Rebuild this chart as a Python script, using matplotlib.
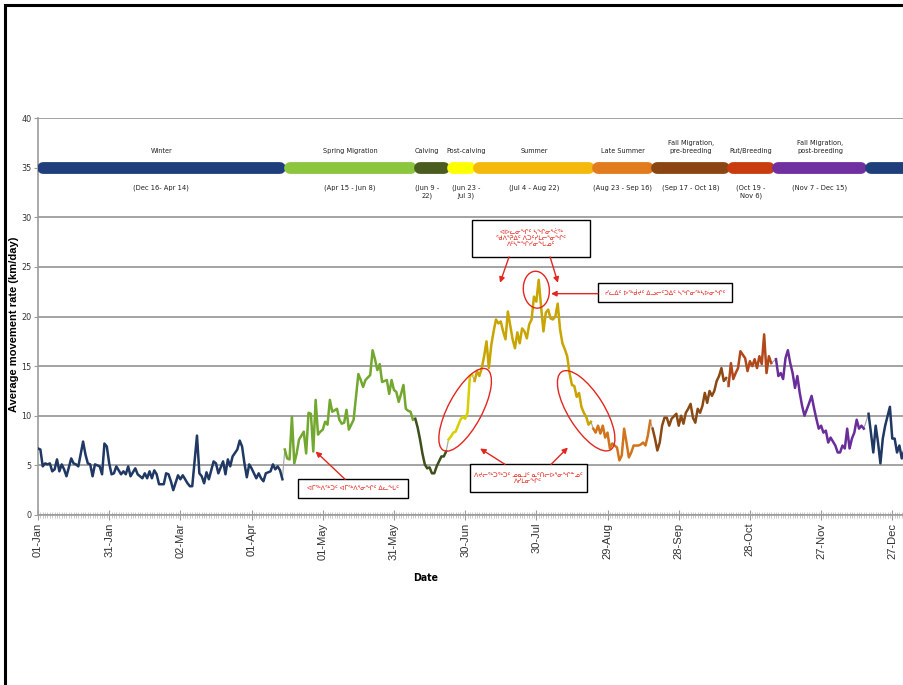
import matplotlib
matplotlib.use("Agg")
import matplotlib.pyplot as plt
from matplotlib.patches import Ellipse, Rectangle
from matplotlib.transforms import ScaledTranslation

# daily average movement rate (day of year, km/day)
days = [0, 1, 2, 3, 4, 5, 6, 7, 8, 9, 10, 11, 12, 14, 15, 16, 17, 19, 20, 21,
        22, 23, 24, 26, 27, 28, 29, 30, 31, 32, 33, 35, 36, 37, 38, 39, 41, 42, 44, 45,
        46, 47, 48, 49, 50, 51, 53, 54, 55, 56, 57, 59, 60, 61, 63, 64, 65, 67, 68, 69,
        70, 71, 72, 74, 75, 76, 78, 79, 80, 81, 82, 84, 85, 86, 87, 88, 89, 90, 92, 93,
        94, 95, 96, 98, 99, 100, 101, 102, 103,
        104, 105, 106, 107, 108, 109, 110, 112, 113, 114, 115, 116, 117, 118, 119, 120,
        121, 122, 123, 124, 126, 127, 128, 129, 130, 131, 133, 134, 135, 136, 137, 138,
        140, 141, 142, 143, 144, 145, 147, 148, 149, 150, 151, 152, 153, 154, 155, 156,
        157, 158,
        159, 160, 161, 162, 163, 164, 165, 166, 167, 168, 169, 170, 171, 172,
        173, 174, 175, 176, 178, 179, 180, 181, 182, 183,
        184, 185, 186, 187, 188, 189, 190, 191, 192, 193, 194, 195, 196, 197, 198, 200,
        201, 202, 203, 204, 205, 206, 207, 208, 209, 210, 211, 212, 213, 214, 215, 216,
        217, 218, 219, 220, 221, 222, 223, 224, 225, 226, 227, 228, 229, 230, 231, 232, 233,
        234, 235, 236, 237, 238, 239, 240, 241, 242, 244, 245, 246, 247, 248, 249, 250,
        251, 253, 254, 255, 256, 257, 258,
        259, 260, 261, 262, 263, 264, 265, 266, 267, 269, 270, 271, 272, 273, 274, 275,
        276, 277, 278, 279, 280, 281, 282, 283, 284, 285, 286, 287, 288, 289, 290,
        291, 292, 293, 294, 295, 296, 298, 299, 300, 301, 302, 303, 304, 305, 306, 307,
        308, 309,
        311, 312, 313, 314, 315, 316, 317, 318, 319, 320, 321, 322, 323, 325, 326, 327,
        328, 329, 330, 331, 332, 333, 334, 336, 337, 338, 339, 340, 341, 342, 343, 344,
        345, 346, 347, 348,
        350, 351, 352, 353, 354, 355, 356, 357, 359, 360, 361, 362, 363, 364, 365]
rates = [6.7, 6.6, 4.9, 5.2, 5.1, 5.2, 4.4, 4.6, 5.6, 4.4, 5.1, 4.6, 3.9, 5.7, 5.2, 5.1, 4.9, 7.4, 6.1, 5.2,
         5.1, 3.9, 5.1, 4.9, 4.1, 7.2, 6.9, 5.2, 4.1, 4.2, 4.9, 4.1, 4.4, 4.1, 4.9, 3.9, 4.7, 4.1, 3.7, 4.2,
         3.7, 4.4, 3.7, 4.5, 4.1, 3.1, 3.1, 4.2, 4.1, 3.4, 2.5, 4.0, 3.6, 4.0, 3.2, 2.9, 2.9, 8.0, 4.2, 3.9,
         3.2, 4.3, 3.6, 5.4, 5.2, 4.2, 5.4, 4.1, 5.6, 4.9, 5.9, 6.6, 7.5, 6.9, 5.2, 3.8, 5.1, 4.7, 3.7, 4.2,
         3.7, 3.4, 4.2, 4.4, 5.1, 4.6, 4.9, 4.5, 3.6,
         6.6, 5.7, 5.6, 9.9, 5.2, 6.2, 7.6, 8.4, 6.2, 10.3, 10.2, 6.4, 11.6, 8.1, 8.4, 8.6,
         9.4, 9.1, 11.6, 10.4, 10.7, 9.6, 9.2, 9.3, 10.6, 8.6, 9.6, 11.9, 14.2, 13.6, 12.9, 13.6,
         14.1, 16.6, 15.7, 14.6, 15.2, 13.4, 13.6, 12.2, 13.6, 12.6, 12.4, 11.4, 12.2, 13.1, 10.7, 10.5,
         10.4, 9.6,
         9.7, 8.8, 7.6, 6.2, 5.1, 4.7, 4.8, 4.2, 4.2, 4.9, 5.4, 5.9, 5.9, 6.4,
         7.6, 7.9, 8.3, 8.4, 9.6, 9.9, 9.7, 10.3, 14.0, 14.1,
         13.5, 14.5, 14.0, 14.8, 16.0, 17.5, 14.8, 17.1, 18.5, 19.7, 19.3, 19.5, 18.5, 17.7, 20.5, 17.7,
         16.8, 18.4, 17.3, 18.8, 18.5, 17.8, 19.2, 19.7, 22.0, 21.5, 23.7, 21.0, 18.5, 20.4, 20.7, 19.8,
         19.7, 20.0, 21.3, 18.7, 17.3, 16.7, 16.0, 14.3, 13.1, 13.0, 11.9, 12.3, 10.9, 10.3, 9.9, 9.1, 9.4,
         8.7, 8.3, 9.0, 8.2, 9.0, 7.8, 8.3, 6.7, 7.2, 6.8, 5.5, 6.0, 8.7, 7.3, 5.8, 6.3,
         7.0, 7.0, 7.1, 7.3, 7.0, 8.0, 9.5,
         8.7, 7.7, 6.5, 7.3, 9.0, 9.8, 9.8, 9.0, 9.7, 10.2, 9.0, 10.0, 9.2, 10.3, 10.7, 11.2,
         9.8, 9.3, 10.7, 10.3, 11.0, 12.3, 11.3, 12.5, 12.0, 12.5, 13.5, 14.0, 14.8, 13.5, 13.8,
         13.0, 15.3, 13.7, 14.3, 14.8, 16.5, 15.8, 14.5, 15.5, 15.0, 15.7, 14.8, 16.0, 15.2, 18.2, 14.3,
         16.0, 15.3,
         15.7, 14.0, 14.3, 13.7, 15.8, 16.6, 15.3, 14.3, 12.8, 14.0, 12.3, 11.0, 10.0, 11.3, 12.0, 10.8,
         9.7, 8.7, 9.0, 8.3, 8.5, 7.3, 7.8, 7.0, 6.3, 6.3, 7.0, 6.7, 8.7, 6.7, 7.7, 8.3,
         9.6, 8.7, 9.0, 8.7,
         10.2, 8.3, 6.3, 9.0, 7.3, 5.2, 7.7, 9.0, 10.9, 7.7, 7.7, 6.3, 7.0, 5.7, 6.5]

# seasons
season_names = ["Winter", "Spring Migration", "Calving", "Post-calving", "Summer",
                "Late Summer", "Fall Migration,\npre-breeding", "Rut/Breeding",
                "Fall Migration,\npost-breeding", ""]
season_dates = ["(Dec 16- Apr 14)", "(Apr 15 - Jun 8)", "(Jun 9 -\n22)", "(Jun 23 -\nJul 3)",
                "(Jul 4 - Aug 22)", "(Aug 23 - Sep 16)", "(Sep 17 - Oct 18)", "(Oct 19 -\nNov 6)",
                "(Nov 7 - Dec 15)", ""]
season_start = [0, 104, 159, 173, 184, 234, 259, 291, 310, 349]
season_end = [104, 159, 173, 184, 234, 259, 291, 310, 349, 372]
bar_colors = ["#1f3f7c", "#8cc63f", "#4a5c1f", "#ffff00", "#f5b90e",
              "#e27a1e", "#8b4513", "#c93c10", "#7030a0", "#1f3f7c"]
line_colors = ["#1f3864", "#72a82f", "#3e4f1c", "#d6d000", "#c9a500",
               "#d2741c", "#8b4a14", "#b2481a", "#6a2e9a", "#1f3864"]

tick_days = [0, 30, 60, 90, 120, 150, 180, 210, 240, 270, 300, 330, 360]
tick_labels = ["01-Jan", "31-Jan", "02-Mar", "01-Apr", "01-May", "31-May", "30-Jun",
               "30-Jul", "29-Aug", "28-Sep", "28-Oct", "27-Nov", "27-Dec"]

# red notes (Inuktitut)
note_spring = "ᐊᒥᖅᐱᖅᑐᑦ ᐊᒥᖅᐱᕐᓂᖏᑦ ᐃᓚᖓᑦ"
note_top = "ᐊᐅᓚᓂᖏᑦ ᓴᖏᓂᕐᐹᖅ\nᖁᐱᕐᕈᐃᑦ ᐱᑐᑦᓯᒪᓕᕐᓂᖏᑦ\nᐱᑦᓴᓐᖏᓯᓂᖓᓄᑦ"
note_peak = "ᓯᓚᐃᑦ ᐅᖅᑰᔪᑦ ᐃᓗᓕᑦᑐᐃᑦ ᓴᖏᓂᖅᓴᐅᓂᖏᑦ"
note_bottom = "ᐱᔪᓕᖅᑐᖅᑐᑦ ᓄᓇᒧᑦ ᓇᑦᑎᓕᐅᕐᓂᖏᓐᓄᑦ\nᐱᓯᒪᓂᖏᑦ"

narrow = ["Liberation Sans Narrow", "DejaVu Sans"]
RED = "#e3261f"

fig = plt.figure(figsize=(9.04, 6.85), dpi=100)
ax = fig.add_axes([38 / 904, 1 - 515 / 685, 370 * 2.373 / 904, 397 / 685])
ax.set_xlim(0, 370)
ax.set_ylim(0, 40)

# grid
ax.set_yticks(range(0, 45, 5))
ax.grid(axis="y", color="#9c9c9c", lw=1.3, zorder=0)
ax.set_axisbelow(True)
for s in ["top", "right"]:
    ax.spines[s].set_visible(False)
ax.spines["left"].set_color("#9c9c9c")
ax.spines["bottom"].set_color("#9c9c9c")
ax.spines["left"].set_linewidth(1.2)
ax.spines["bottom"].set_linewidth(1.2)

# data line: thin grey underneath, coloured by season on top
ax.plot(days, rates, color="#a0a0a0", lw=0.8, zorder=2)
for s0, s1, c in zip(season_start, season_end, line_colors):
    xs = [d for d in days if s0 <= d < s1]
    ys = [r for d, r in zip(days, rates) if s0 <= d < s1]
    ax.plot(xs, ys, color=c, lw=1.8, zorder=3)

# season bar at 35
for s0, s1, c, name, dt in zip(season_start, season_end, bar_colors, season_names, season_dates):
    ax.plot([s0 + 2, s1 - 2], [35, 35], color=c, lw=8.5, solid_capstyle="round", zorder=4)
    mid = (s0 + s1) / 2
    if name == "Calving":
        mid -= 2
    elif name == "Post-calving":
        mid += 2
    if name:
        ax.text(mid, 36.35, name, ha="center", va="bottom", fontsize=5.2,
                family=narrow, fontstretch="condensed", color="#222222", linespacing=1.35)
        ax.text(mid, 33.35, dt, ha="center", va="top", fontsize=5.4,
                family=narrow, fontstretch="condensed", color="#222222", linespacing=1.4)

# axes ticks
ax.set_xticks(tick_days)
ax.set_xticklabels(tick_labels, rotation=90, fontsize=8, family="Liberation Sans", color="#333333")
ax.set_xticks(range(0, 371), minor=True)
ax.tick_params(axis="x", which="major", direction="inout", length=7, color="#9c9c9c", pad=2)
ax.tick_params(axis="x", which="minor", direction="inout", length=4, color="#b5b5b5", width=0.5)
ax.tick_params(axis="y", length=3, color="#9c9c9c", pad=1.5, labelsize=6.5)
for lab in ax.get_yticklabels():
    lab.set_family(narrow)
    lab.set_stretch("condensed")
    lab.set_color("#333333")

ax.set_ylabel("Average movement rate (km/day)", fontsize=8, fontweight="bold", family="Liberation Sans")
ax.yaxis.set_label_coords(-0.022, 0.48)
ax.set_xlabel("Date", fontsize=7.5, fontweight="bold", family=narrow, fontstretch="condensed")
ax.xaxis.set_label_coords(0.441, -0.146)


def px_at(x, y):
    # inch-based transform anchored at a data point
    return fig.dpi_scale_trans + ScaledTranslation(x, y, ax.transData)


def note_box(x, y, w, h, text):
    ax.add_patch(Rectangle((-w / 200, -h / 200), w / 100, h / 100, transform=px_at(x, y),
                           fc="white", ec="black", lw=1.0, zorder=6, clip_on=False))
    ax.text(x, y, text, ha="center", va="center", fontsize=4.6, color=RED,
            family="DejaVu Sans", linespacing=1.2, zorder=7)


def ring(x, y, w, h, angle):
    ax.add_patch(Ellipse((0, 0), w / 100, h / 100, angle=angle, transform=px_at(x, y),
                         fill=False, ec=RED, lw=1.0, zorder=5, clip_on=False))


def arrow(x0, y0, x1, y1):
    ax.annotate("", xy=(x1, y1), xytext=(x0, y0),
                arrowprops=dict(arrowstyle="-|>", color=RED, lw=1.0, mutation_scale=8,
                                shrinkA=0, shrinkB=0), zorder=6)


ring(210, 22.7, 26, 37, 5)
ring(180, 10.6, 92, 34, 62)
ring(231, 10.5, 92, 36, -58)

note_box(132.7, 2.7, 110, 19, note_spring)
arrow(129.4, 3.6, 117, 6.4)
note_box(207.8, 27.9, 118, 37, note_top)
arrow(198.5, 26.0, 194.7, 23.4)
arrow(215.8, 26.0, 219.1, 23.4)
note_box(264.2, 22.4, 134, 19, note_peak)
arrow(236, 22.3, 216.2, 22.3)
note_box(206.5, 3.7, 117, 28, note_bottom)
arrow(196.8, 5.1, 186.3, 6.7)
arrow(216.2, 5.1, 223.3, 6.8)

# page frame
fig.patches.append(Rectangle((5 / 904, -0.05), 1.1, 1.05 - 5 / 685, transform=fig.transFigure,
                             fill=False, ec="black", lw=2.2))

fig.savefig("out.png", dpi=100)
